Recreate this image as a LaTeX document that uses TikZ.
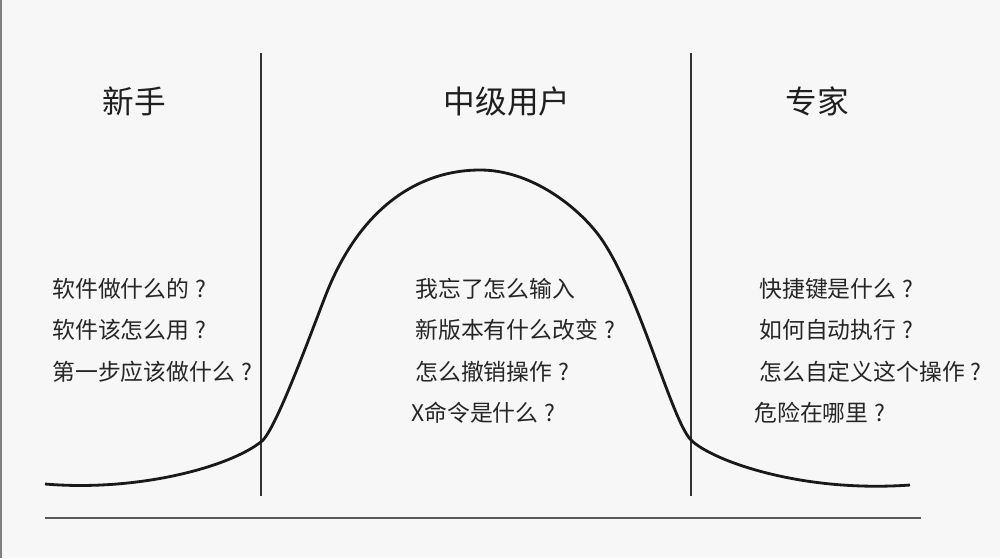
\documentclass[tikz,border=0pt]{standalone}
\usepackage{fontspec}
\setmainfont{Noto Sans CJK SC}
\usepackage{xcolor}
\definecolor{bgpage}{HTML}{F7F7F7}
\definecolor{inkline}{HTML}{333333}
\newcommand{\qmark}{\makebox[1em]{?}}

\begin{document}
\begin{tikzpicture}[x=0.02cm,y=-0.02cm,
        head/.style={inner sep=0pt,font=\fontsize{18}{20}\selectfont,text=black!88},
        ask/.style={anchor=west,inner sep=0pt,font=\fontsize{13}{15}\selectfont,text=black!85}]
        \fill[bgpage] (0,0) rectangle (1000,558);
        \useasboundingbox (0,0) rectangle (1000,558);
        \draw[gray,line width=1.2pt] (1,0) -- (1,558);
        % axis and dividers
        \draw[line width=1.1pt,black!65] (45,518) -- (921,518);
        \draw[line width=1.1pt,inkline] (261,53) -- (261,496);
        \draw[line width=1.1pt,inkline] (691,53) -- (691,496);
        % user curve
        \draw[line width=1.6pt,black!90] (45,484) .. controls (140,492) and (232,466) .. (262,441)
            .. controls (276,429) and (311,333) .. (325,297)
            .. controls (360,206) and (420,170) .. (480,170)
            .. controls (530,170) and (575,205) .. (597,233)
            .. controls (637,284) and (671,420) .. (691,440)
            .. controls (711,460) and (800,493) .. (910,485);
        % headings
        \node[head] (novice) at (134,101) {新手};
        \node[head] (middle) at (507,101) {中级用户};
        \node[head] (expert) at (817,101) {专家};
        % novice questions
        \node[ask] (n1) at (52,289) {软件做什么的\qmark};
        \node[ask] (n2) at (52,330) {软件该怎么用\qmark};
        \node[ask] (n3) at (52,372) {第一步应该做什么\qmark};
        % intermediate questions
        \node[ask] (m1) at (415,289) {我忘了怎么输入};
        \node[ask] (m2) at (415,330) {新版本有什么改变\qmark};
        \node[ask] (m3) at (415,372) {怎么撤销操作\qmark};
        \node[ask] (m4) at (411,413) {X命令是什么\qmark};
        % expert questions
        \node[ask] (e1) at (759,289) {快捷键是什么\qmark};
        \node[ask] (e2) at (759,330) {如何自动执行\qmark};
        \node[ask] (e3) at (759,372) {怎么自定义这个操作\qmark};
        \node[ask] (e4) at (754,413) {危险在哪里\qmark};
\end{tikzpicture}
\end{document}
